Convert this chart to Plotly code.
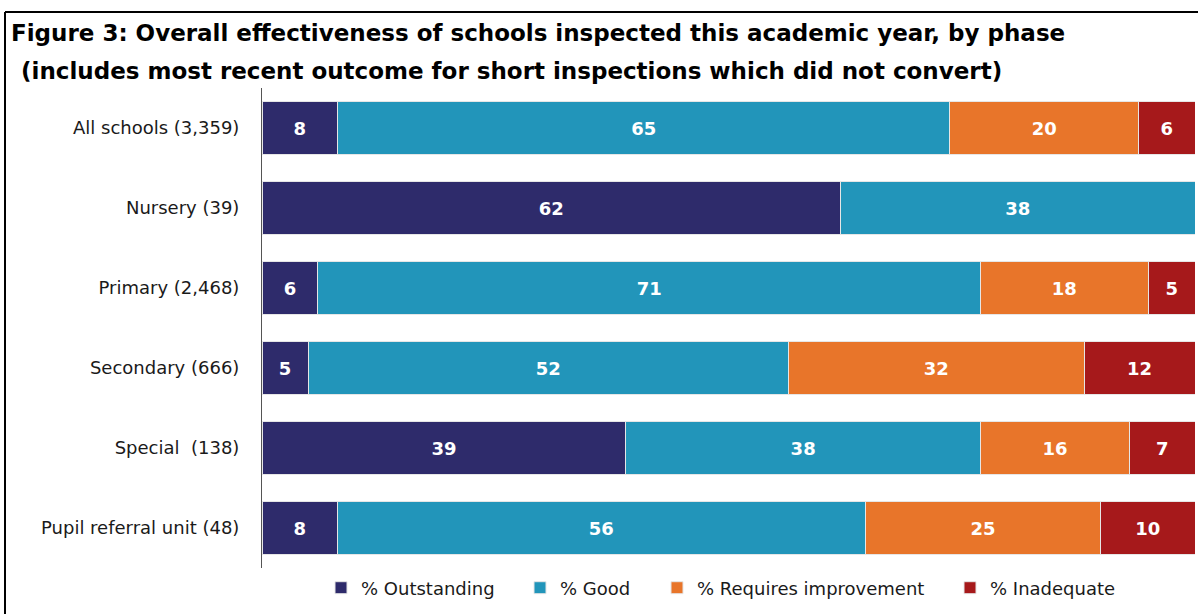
import plotly.graph_objects as go

# Phases (with number of schools) and the share of each inspection grade
phases = ["All schools (3,359)", "Nursery (39)", "Primary (2,468)",
          "Secondary (666)", "Special  (138)", "Pupil referral unit (48)"]
outstanding = [8, 62, 6, 5, 39, 8]
good = [65, 38, 71, 52, 38, 56]
requires_improvement = [20, 0, 18, 32, 16, 25]
inadequate = [6, 0, 5, 12, 7, 10]

series = [
    ("% Outstanding", outstanding, "#2E2B6B"),
    ("% Good", good, "#2295BA"),
    ("% Requires improvement", requires_improvement, "#E8752A"),
    ("% Inadequate", inadequate, "#A6191B"),
]

title_lines = [
    "Figure 3: Overall effectiveness of schools inspected this academic year, by phase",
    "(includes most recent outcome for short inspections which did not convert)",
]

FONT = "DejaVu Sans"

W, H = 1198, 614
L, R, T, B = 262, 3, 88, 46
pw, ph = W - L - R, H - T - B

def px_x(p):
    return (p - L) / pw

def px_y(p):
    return (H - B - p) / ph

# each legend entry gets its own legend box so the spacing between entries can be set
legend_ids = ["legend", "legend2", "legend3", "legend4"]
legend_text_px = [361, 560, 697, 990]

fig = go.Figure()
for (name, vals, color), lid in zip(series, legend_ids):
    fig.add_trace(go.Bar(
        name=name,
        y=phases,
        x=vals,
        orientation="h",
        legend=lid,
        showlegend=True,
        marker=dict(color=color, line=dict(color="#E6E6E6", width=1)),
        text=[str(v) if v else "" for v in vals],
        textposition="inside",
        insidetextanchor="middle",
        textangle=0,
        constraintext="none",
        textfont=dict(family=FONT, size=18, color="white", weight="bold"),
        hoverinfo="skip",
    ))

title_font = dict(family=FONT, size=23, color="black", weight="bold")

legend_layout = {}
for lid, tx in zip(legend_ids, legend_text_px):
    legend_layout[lid] = dict(
        orientation="h", x=px_x(tx - 40), xanchor="left",
        y=px_y(588), yanchor="middle",
        font=dict(family=FONT, size=18, color="#1a1a1a"),
        itemwidth=30, bgcolor="rgba(0,0,0,0)",
    )

fig.update_layout(
    width=W, height=H,
    margin=dict(l=L, r=R, t=T, b=B),
    barmode="stack",
    barnorm="percent",
    bargap=0.34,
    showlegend=True,
    plot_bgcolor="white",
    paper_bgcolor="white",
    font=dict(family=FONT, size=18, color="#1a1a1a"),
    xaxis=dict(visible=False, range=[0, 100]),
    yaxis=dict(
        categoryorder="array", categoryarray=phases, autorange="reversed",
        showline=True, linecolor="#555555", linewidth=1,
        ticks="", ticklabelstandoff=18,
        tickfont=dict(family=FONT, size=18, color="#1a1a1a"),
        showgrid=False, zeroline=False,
    ),
    annotations=[
        dict(text=title_lines[0], xref="paper", yref="paper",
             x=px_x(9), y=px_y(33), xanchor="left", yanchor="middle",
             showarrow=False, font=title_font),
        dict(text=title_lines[1], xref="paper", yref="paper",
             x=px_x(19), y=px_y(71), xanchor="left", yanchor="middle",
             showarrow=False, font=title_font),
    ],
    shapes=[
        dict(type="line", xref="paper", yref="paper",
             x0=px_x(5), x1=px_x(1210), y0=px_y(12), y1=px_y(12),
             line=dict(color="black", width=2)),
        dict(type="line", xref="paper", yref="paper",
             x0=px_x(5), x1=px_x(5), y0=px_y(12), y1=px_y(630),
             line=dict(color="black", width=2)),
    ],
    **legend_layout,
)

fig.write_html("out.html")
